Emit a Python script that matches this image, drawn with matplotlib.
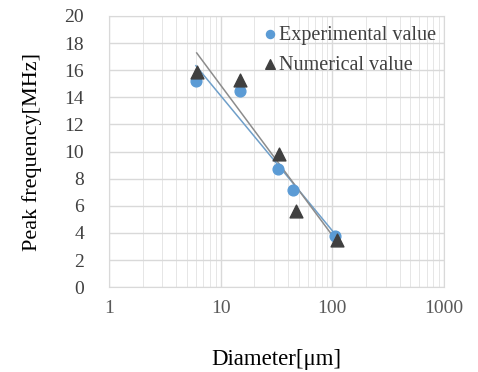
import numpy as np
import matplotlib
matplotlib.use('Agg')
import matplotlib.pyplot as plt
from matplotlib.ticker import FixedLocator, LogLocator, NullFormatter

plt.rcParams['font.family'] = ['Liberation Serif', 'DejaVu Serif']

# Data
exp_diam = [6.0, 14.8, 32.5, 44.0, 106.0]
exp_freq = [15.2, 14.5, 8.7, 7.2, 3.8]

num_diam = [6.1, 15.0, 33.5, 47.0, 110.0]
num_freq = [15.9, 15.3, 9.8, 5.6, 3.5]

x_ticks = [1, 10, 100, 1000]
y_ticks = [0, 2, 4, 6, 8, 10, 12, 14, 16, 18, 20]

blue = '#5B9BD5'
dark = '#404040'

fig = plt.figure(figsize=(4.78, 3.72), dpi=100)
ax = fig.add_axes([0.228, 0.228, 0.701, 0.729])

ax.set_xscale('log')
ax.set_xlim(1, 1000)
ax.set_ylim(0, 20)

# Logarithmic trendlines (fitted, as in the spreadsheet chart)
for xs, ys, c in [(exp_diam, exp_freq, '#6f9fc9'), (num_diam, num_freq, '#8c8c8c')]:
    a, b = np.polyfit(np.log(xs), ys, 1)
    xx = np.linspace(min(xs), max(xs), 50)
    ax.plot(xx, a * np.log(xx) + b, color=c, lw=1.1, zorder=2)

ax.scatter(exp_diam, exp_freq, s=60, color=blue, marker='o', zorder=3,
           label='Experimental value')
ax.scatter(num_diam, num_freq, s=85, color=dark, marker='^', zorder=4,
           label='Numerical value')

ax.xaxis.set_major_locator(FixedLocator(x_ticks))
ax.xaxis.set_minor_locator(LogLocator(base=10, subs=np.arange(2, 10)))
ax.xaxis.set_minor_formatter(NullFormatter())
ax.set_xticklabels([str(t) for t in x_ticks])
ax.set_yticks(y_ticks)

ax.grid(True, which='major', color='#d9d9d9', lw=1.0)
ax.grid(True, which='minor', axis='x', color='#e6e6e6', lw=0.7)
ax.set_axisbelow(True)
for sp in ax.spines.values():
    sp.set_color('#d9d9d9')

ax.tick_params(which='both', length=0)
ax.tick_params(axis='y', labelsize=14, colors='#404040', pad=18)
ax.tick_params(axis='x', labelsize=14, colors='#595959', pad=9)

ax.set_xlabel('Diameter[\u03bcm]', fontsize=16.5, labelpad=23)
ax.set_ylabel('Peak frequency[MHz]', fontsize=16, labelpad=16)

leg = ax.legend(loc='upper right', frameon=False, fontsize=14.5,
                handletextpad=0.0, borderaxespad=0.0, labelspacing=0.55,
                markerscale=0.75, handlelength=0.9,
                bbox_to_anchor=(1.0, 0.995))
for t in leg.get_texts():
    t.set_color('#404040')

fig.savefig('out.png', dpi=100)
